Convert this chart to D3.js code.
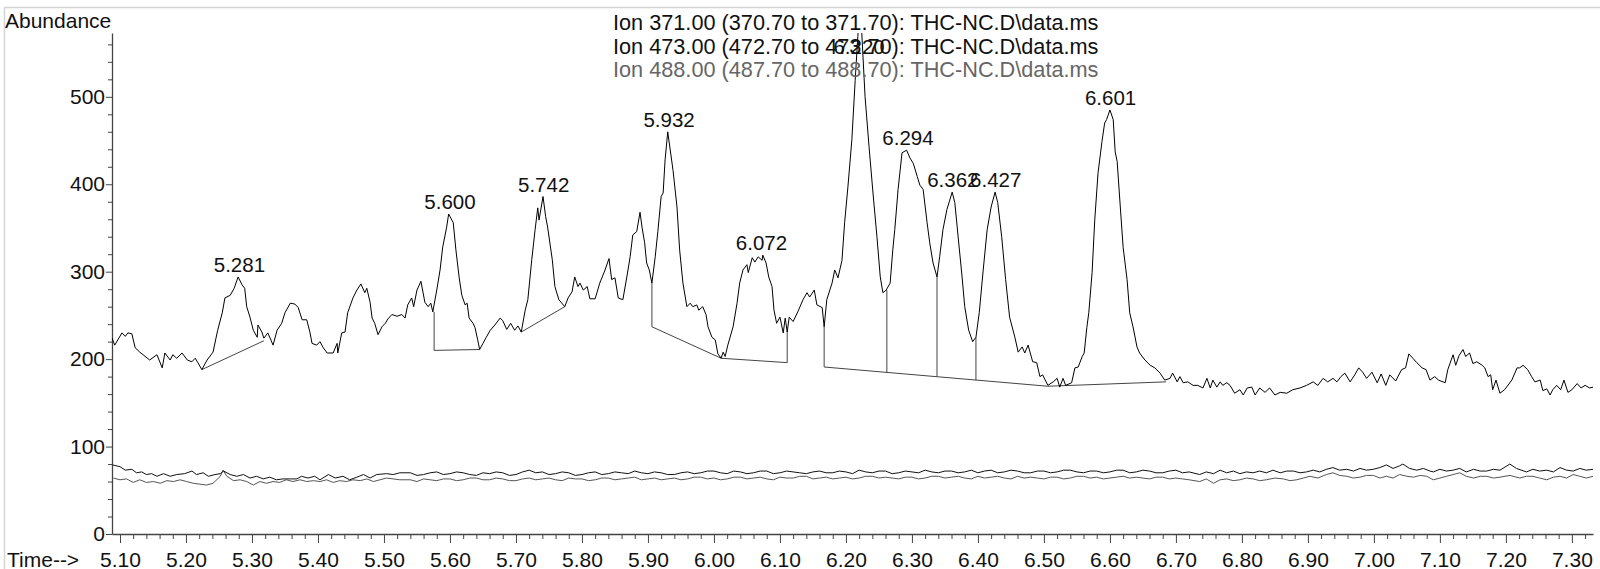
<!DOCTYPE html>
<html>
<head>
<meta charset="utf-8">
<script src="https://cdn.jsdelivr.net/npm/d3@7"></script>
<style>
  html, body { margin: 0; padding: 0; background: #fff; }
  svg { display: block; font-family: "Liberation Sans", Arial, sans-serif; }
</style>
</head>
<body>
<div id="chart"></div>
<script>
// ---------- DATA ----------
const titleLines = [
  "Ion 371.00 (370.70 to 371.70): THC-NC.D\\data.ms",
  "Ion 473.00 (472.70 to 473.70): THC-NC.D\\data.ms",
  "Ion 488.00 (487.70 to 488.70): THC-NC.D\\data.ms"
];
const xMajorTicks = [5.10,5.20,5.30,5.40,5.50,5.60,5.70,5.80,5.90,6.00,6.10,6.20,6.30,6.40,6.50,6.60,6.70,6.80,6.90,7.00,7.10,7.20,7.30];
const yMajorTicks = [0,100,200,300,400,500];

// Ion 371 trace [time, abundance]
const ion371 = [[5.088,224],[5.092,216],[5.103,230],[5.108,226],[5.112,230],[5.118,229],[5.123,213],[5.130,208],[5.135,205],[5.145,199],[5.156,205],[5.164,190],[5.168,207],[5.176,199],[5.180,205],[5.186,201],[5.194,207],[5.202,199],[5.209,197],[5.214,201],[5.218,196],[5.224,188],[5.232,199],[5.241,208],[5.248,233],[5.255,253],[5.259,270],[5.267,273],[5.273,281],[5.279,294],[5.285,285],[5.289,281],[5.292,260],[5.297,248],[5.302,233],[5.308,225],[5.309,239],[5.315,231],[5.318,224],[5.324,230],[5.332,216],[5.338,233],[5.345,241],[5.350,253],[5.358,264],[5.365,263],[5.370,259],[5.376,245],[5.383,245],[5.388,230],[5.391,218],[5.398,216],[5.403,220],[5.408,213],[5.414,207],[5.423,207],[5.429,218],[5.430,207],[5.436,230],[5.441,231],[5.445,253],[5.453,270],[5.459,279],[5.465,286],[5.471,276],[5.474,281],[5.479,265],[5.482,247],[5.486,241],[5.491,228],[5.497,237],[5.502,241],[5.506,246],[5.512,251],[5.520,249],[5.527,251],[5.532,247],[5.536,262],[5.542,270],[5.545,260],[5.550,279],[5.556,289],[5.562,265],[5.567,260],[5.571,264],[5.574,254],[5.580,279],[5.585,302],[5.589,328],[5.595,351],[5.598,366],[5.605,356],[5.609,325],[5.614,293],[5.618,273],[5.623,262],[5.626,264],[5.629,247],[5.635,241],[5.638,236],[5.642,222],[5.645,211],[5.650,218],[5.655,225],[5.661,233],[5.668,239],[5.676,247],[5.680,244],[5.686,234],[5.692,241],[5.698,233],[5.703,238],[5.708,231],[5.714,256],[5.718,268],[5.724,314],[5.729,348],[5.733,373],[5.735,359],[5.741,386],[5.745,363],[5.748,351],[5.755,314],[5.759,283],[5.765,268],[5.774,260],[5.779,270],[5.785,277],[5.789,294],[5.794,283],[5.797,287],[5.802,279],[5.808,283],[5.812,269],[5.820,269],[5.827,287],[5.835,302],[5.841,315],[5.845,291],[5.850,293],[5.855,270],[5.862,268],[5.868,294],[5.873,317],[5.877,342],[5.883,346],[5.888,368],[5.891,351],[5.895,333],[5.898,310],[5.902,302],[5.906,287],[5.911,317],[5.915,346],[5.920,386],[5.923,390],[5.926,428],[5.930,460],[5.938,416],[5.944,374],[5.948,325],[5.953,287],[5.959,260],[5.964,264],[5.968,260],[5.974,262],[5.977,256],[5.983,260],[5.988,251],[5.991,237],[5.997,225],[6.002,222],[6.006,206],[6.011,201],[6.014,208],[6.017,203],[6.021,216],[6.029,237],[6.035,264],[6.039,287],[6.044,302],[6.050,308],[6.052,299],[6.058,316],[6.062,311],[6.067,317],[6.073,313],[6.074,319],[6.079,310],[6.083,294],[6.088,283],[6.091,256],[6.095,241],[6.100,248],[6.105,230],[6.108,247],[6.111,231],[6.114,248],[6.120,243],[6.127,254],[6.135,268],[6.141,276],[6.145,271],[6.152,279],[6.156,262],[6.164,259],[6.167,237],[6.171,268],[6.179,287],[6.183,302],[6.188,293],[6.194,313],[6.198,356],[6.203,397],[6.209,451],[6.214,519],[6.218,569],[6.221,600],[6.224,573],[6.229,500],[6.235,443],[6.241,390],[6.247,340],[6.252,294],[6.256,276],[6.261,279],[6.267,287],[6.271,325],[6.274,348],[6.279,394],[6.285,436],[6.292,439],[6.297,430],[6.302,424],[6.308,409],[6.312,399],[6.317,394],[6.323,356],[6.327,333],[6.332,310],[6.338,294],[6.342,317],[6.347,348],[6.353,371],[6.361,391],[6.365,379],[6.370,340],[6.376,294],[6.380,260],[6.386,233],[6.392,220],[6.397,225],[6.402,253],[6.408,302],[6.414,348],[6.420,374],[6.426,391],[6.430,379],[6.436,340],[6.442,291],[6.448,248],[6.456,225],[6.461,208],[6.467,214],[6.471,207],[6.476,216],[6.483,197],[6.489,196],[6.494,180],[6.498,182],[6.506,170],[6.514,174],[6.520,178],[6.524,168],[6.529,178],[6.533,170],[6.542,173],[6.547,190],[6.552,191],[6.558,203],[6.561,207],[6.565,236],[6.568,253],[6.573,299],[6.577,359],[6.582,413],[6.588,449],[6.592,470],[6.595,474],[6.600,485],[6.605,474],[6.608,437],[6.611,426],[6.615,382],[6.620,328],[6.626,291],[6.630,253],[6.635,237],[6.641,214],[6.645,207],[6.653,199],[6.661,193],[6.668,190],[6.676,184],[6.683,176],[6.691,178],[6.695,184],[6.702,174],[6.706,180],[6.711,173],[6.718,174],[6.726,170],[6.733,170],[6.741,167],[6.747,178],[6.752,167],[6.756,176],[6.762,168],[6.767,174],[6.771,170],[6.777,173],[6.782,170],[6.789,161],[6.797,165],[6.802,159],[6.808,167],[6.815,168],[6.820,159],[6.827,167],[6.835,162],[6.842,167],[6.850,159],[6.858,162],[6.868,161],[6.877,165],[6.888,167],[6.898,170],[6.908,174],[6.915,170],[6.923,178],[6.930,174],[6.938,178],[6.944,174],[6.950,180],[6.956,184],[6.964,174],[6.971,182],[6.977,190],[6.983,185],[6.989,178],[6.997,185],[7.005,173],[7.011,183],[7.018,170],[7.024,182],[7.033,175],[7.042,188],[7.048,190],[7.053,206],[7.059,201],[7.065,196],[7.073,190],[7.079,188],[7.085,176],[7.092,180],[7.098,176],[7.108,173],[7.112,188],[7.120,205],[7.124,193],[7.129,204],[7.135,211],[7.139,203],[7.145,207],[7.150,195],[7.156,197],[7.164,193],[7.168,190],[7.173,180],[7.177,182],[7.180,165],[7.185,176],[7.191,161],[7.198,165],[7.209,176],[7.217,190],[7.221,190],[7.226,193],[7.233,188],[7.239,180],[7.244,174],[7.252,176],[7.256,164],[7.262,166],[7.267,159],[7.271,165],[7.277,170],[7.283,165],[7.288,176],[7.294,162],[7.300,165],[7.308,172],[7.314,167],[7.320,170],[7.327,167],[7.332,168]];

// Ion 473 trace
const ion473 = [[5.089,79],[5.100,77],[5.108,73],[5.118,74],[5.125,70],[5.133,71],[5.140,68],[5.148,69],[5.156,66],[5.166,69],[5.176,66],[5.186,68],[5.198,69],[5.209,72],[5.216,68],[5.226,70],[5.234,66],[5.244,68],[5.252,69],[5.257,72],[5.267,68],[5.277,66],[5.287,68],[5.297,64],[5.307,66],[5.317,63],[5.327,65],[5.337,62],[5.347,63],[5.358,63],[5.368,63],[5.375,66],[5.385,64],[5.395,66],[5.403,62],[5.416,68],[5.426,64],[5.438,66],[5.448,62],[5.459,65],[5.469,68],[5.479,64],[5.489,68],[5.504,69],[5.514,68],[5.524,70],
[5.54,70],[5.55,67],[5.56,68],[5.57,70],[5.58,71],[5.59,68],[5.60,69],[5.61,71],[5.62,70],[5.63,68],[5.64,67],[5.65,70],[5.66,69],[5.67,71],[5.68,70],[5.69,67],[5.70,68],[5.71,71],[5.72,73],[5.73,70],[5.74,71],[5.75,68],[5.76,69],[5.77,71],[5.78,70],[5.79,67],[5.80,68],[5.81,70],[5.82,71],[5.83,68],[5.84,69],[5.85,71],[5.86,70],[5.87,69],[5.88,72],[5.89,70],[5.90,69],[5.91,71],[5.92,70],[5.93,68],[5.94,68],[5.95,70],[5.96,71],[5.97,69],[5.98,70],[5.99,72],[6.00,72],[6.01,70],[6.02,69],[6.03,72],[6.04,71],[6.05,69],[6.06,70],[6.07,72],[6.08,72],[6.09,69],[6.10,70],[6.11,72],[6.12,71],[6.13,70],[6.14,69],[6.15,71],[6.16,72],[6.17,70],[6.18,70],[6.19,72],[6.20,71],[6.21,69],[6.22,73],[6.23,71],[6.24,70],[6.25,72],[6.26,72],[6.27,69],[6.28,70],[6.29,72],[6.30,71],[6.31,70],[6.32,73],[6.33,71],[6.34,70],[6.35,72],[6.36,72],[6.37,70],[6.38,71],[6.39,73],[6.40,70],[6.41,72],[6.42,73],[6.43,70],[6.44,71],[6.45,73],[6.46,72],[6.47,70],[6.48,70],[6.49,72],[6.50,72],[6.51,70],[6.52,71],[6.53,73],[6.54,73],[6.55,71],[6.56,70],[6.57,72],[6.58,72],[6.59,70],[6.60,71],[6.61,73],[6.62,73],[6.63,70],[6.64,71],[6.65,73],[6.66,72],[6.67,70],[6.68,70],[6.69,72],[6.70,73],[6.71,70],[6.72,71],
[6.736,68],[6.746,71],[6.757,69],[6.767,73],[6.777,70],[6.787,72],[6.797,69],[6.807,71],[6.817,70],[6.827,72],[6.837,70],[6.847,73],[6.858,70],[6.868,72],[6.878,72],[6.888,70],[6.898,71],[6.908,73],[6.918,71],[6.928,74],[6.938,76],[6.948,73],[6.959,74],[6.969,72],[6.979,75],[6.989,73],[6.999,74],[7.009,76],[7.019,79],[7.029,75],[7.039,78],[7.044,80],[7.054,75],[7.065,73],[7.075,75],[7.085,72],[7.090,71],[7.100,74],[7.110,72],[7.120,73],[7.130,75],[7.140,71],[7.151,74],[7.161,72],[7.171,72],[7.181,74],[7.191,73],[7.206,80],[7.216,75],[7.231,71],[7.241,74],[7.251,72],[7.262,73],[7.272,71],[7.282,76],[7.292,73],[7.302,72],[7.312,75],[7.322,73],[7.332,74]];

// Ion 488 trace
const ion488 = [[5.090,64],[5.100,62],[5.110,63],[5.120,59],[5.130,62],[5.140,59],[5.151,60],[5.161,58],[5.171,61],[5.181,60],[5.191,62],[5.201,60],[5.211,58],[5.221,57],[5.231,56],[5.241,58],[5.252,66],[5.256,73],[5.262,66],[5.272,61],[5.282,62],[5.292,60],[5.302,56],[5.312,60],[5.322,58],[5.332,60],[5.342,59],[5.352,62],[5.362,60],[5.373,62],[5.383,60],[5.393,61],[5.403,60],[5.413,62],[5.423,59],[5.433,61],[5.443,60],[5.453,62],[5.464,61],[5.474,63],[5.484,60],[5.494,62],[5.504,64],[5.524,62],
[5.54,62],[5.55,60],[5.56,63],[5.57,62],[5.58,61],[5.59,63],[5.60,63],[5.61,61],[5.62,62],[5.63,64],[5.64,64],[5.65,62],[5.66,62],[5.67,64],[5.68,63],[5.69,61],[5.70,61],[5.71,63],[5.72,64],[5.73,62],[5.74,63],[5.75,64],[5.76,62],[5.77,61],[5.78,64],[5.79,63],[5.80,63],[5.81,61],[5.82,62],[5.83,64],[5.84,64],[5.85,62],[5.86,63],[5.87,64],[5.88,65],[5.89,62],[5.90,63],[5.91,64],[5.92,62],[5.93,63],[5.94,64],[5.95,62],[5.96,63],[5.97,65],[5.98,65],[5.99,63],[6.00,64],[6.01,62],[6.02,63],[6.03,65],[6.04,65],[6.05,63],[6.06,64],[6.07,65],[6.08,63],[6.09,62],[6.10,65],[6.11,64],[6.12,64],[6.13,66],[6.14,66],[6.15,63],[6.16,64],[6.17,65],[6.18,63],[6.19,64],[6.20,65],[6.21,63],[6.22,64],[6.23,66],[6.24,66],[6.25,64],[6.26,65],[6.27,64],[6.28,63],[6.29,65],[6.30,65],[6.31,63],[6.32,64],[6.33,66],[6.34,66],[6.35,64],[6.36,65],[6.37,66],[6.38,64],[6.39,63],[6.40,66],[6.41,64],[6.42,65],[6.43,66],[6.44,64],[6.45,63],[6.46,66],[6.47,64],[6.48,65],[6.49,64],[6.50,63],[6.51,65],[6.52,65],[6.53,63],[6.54,64],[6.55,66],[6.56,66],[6.57,64],[6.58,65],[6.59,63],[6.60,64],[6.61,65],[6.62,66],[6.63,64],[6.64,65],[6.65,64],[6.66,63],[6.67,65],[6.68,65],[6.69,63],[6.70,64],[6.71,63],[6.72,62],
[6.736,60],[6.746,63],[6.757,58],[6.767,62],[6.777,63],[6.787,61],[6.797,62],[6.807,64],[6.817,63],[6.827,61],[6.837,62],[6.850,64],[6.863,63],[6.873,61],[6.883,62],[6.893,64],[6.903,66],[6.915,64],[6.928,68],[6.938,70],[6.948,67],[6.959,66],[6.969,64],[6.979,65],[6.989,67],[6.999,67],[7.009,64],[7.019,66],[7.029,64],[7.039,68],[7.050,66],[7.060,65],[7.070,67],[7.080,66],[7.090,62],[7.100,64],[7.110,66],[7.120,68],[7.130,70],[7.140,66],[7.151,64],[7.161,66],[7.171,66],[7.181,64],[7.191,65],[7.206,67],[7.221,64],[7.231,66],[7.241,66],[7.251,64],[7.262,62],[7.272,65],[7.282,66],[7.292,64],[7.302,68],[7.312,66],[7.322,64],[7.332,66]];

// Peak labels
const peakTimes = [5.281,5.600,5.742,5.932,6.072,6.220,6.294,6.362,6.427,6.601];
const peakApex  = [294,366,386,460,319,600,439,391,391,485];

// Integration baselines / drop lines [time, abundance]
const integrationLines = [
  [[5.224,188],[5.318,221]],
  [[5.576,254],[5.576,210],[5.645,211]],
  [[5.708,231],[5.774,260]],
  [[5.906,287],[5.906,237],[6.011,201]],
  [[6.011,201],[6.111,196],[6.111,231]],
  [[6.167,237],[6.167,191],[6.506,169],[6.685,174]],
  [[6.262,279],[6.262,185]],
  [[6.338,294],[6.338,180]],
  [[6.397,225],[6.397,176]]
];

// ---------- CHART ----------
const W = 1600, H = 569;
const svg = d3.select('#chart').append('svg').attr('width', W).attr('height', H);
svg.append('rect').attr('width', W).attr('height', H).attr('fill', '#fff');

// frame
svg.append('line').attr('x1', 4).attr('x2', W).attr('y1', 7.5).attr('y2', 7.5).attr('stroke', '#d4d4d4').attr('stroke-width', 1.5);
svg.append('line').attr('x1', 4.5).attr('x2', 4.5).attr('y1', 7).attr('y2', H).attr('stroke', '#d4d4d4').attr('stroke-width', 1.5);

const x = d3.scaleLinear().domain([5.0879, 7.332]).range([112, 1593]);
const y = d3.scaleLinear().domain([0, 573]).range([534, 33]);

const fontAxis = '21px';

// y axis
const yMinor = d3.range(20, 573, 20).filter(v => v % 100 !== 0);
svg.append('g').attr('transform', 'translate(112,0)')
  .call(d3.axisLeft(y).tickValues(yMinor).tickSize(4).tickSizeOuter(0).tickFormat(''))
  .call(g => g.select('.domain').remove())
  .call(g => g.selectAll('line').attr('stroke', '#444'));
const gy = svg.append('g').attr('transform', 'translate(112,0)')
  .call(d3.axisLeft(y).tickValues(yMajorTicks).tickSize(6).tickSizeOuter(0).tickPadding(1).tickFormat(d3.format('d')));
gy.select('.domain').attr('stroke', '#444').attr('stroke-width', 1.3);
gy.selectAll('line').attr('stroke', '#444');
gy.selectAll('text').attr('font-size', fontAxis).attr('fill', '#111')
  .attr('font-family', '"Liberation Sans", Arial, sans-serif');

// x axis
const xMinor = d3.range(5.12, 7.331, 0.02).filter(v => Math.abs(Math.round(v * 10) - v * 10) > 0.01);
svg.append('g').attr('transform', 'translate(0,534)')
  .call(d3.axisBottom(x).tickValues(xMinor).tickSize(5).tickSizeOuter(0).tickFormat(''))
  .call(g => g.select('.domain').remove())
  .call(g => g.selectAll('line').attr('stroke', '#444'));
const gx = svg.append('g').attr('transform', 'translate(0,534)')
  .call(d3.axisBottom(x).tickValues(xMajorTicks).tickSize(9).tickSizeOuter(0).tickFormat(d3.format('.2f')));
gx.select('.domain').attr('stroke', '#444').attr('stroke-width', 1.3);
gx.selectAll('line').attr('stroke', '#444');
gx.selectAll('text').attr('font-size', fontAxis).attr('fill', '#111')
  .attr('font-family', '"Liberation Sans", Arial, sans-serif')
  .attr('y', 33).attr('dy', 0);

// axis titles
svg.append('text').attr('x', 5).attr('y', 28).attr('font-size', fontAxis).attr('fill', '#111').text('Abundance');
svg.append('text').attr('x', 7).attr('y', 567).attr('font-size', fontAxis).attr('fill', '#111').text('Time-->');

// clip
svg.append('clipPath').attr('id', 'plotclip').append('rect')
  .attr('x', 112).attr('y', 33).attr('width', 1593 - 112).attr('height', 534 - 33);

const line = d3.line().x(d => x(d[0])).y(d => y(d[1]));
const plot = svg.append('g').attr('clip-path', 'url(#plotclip)');

plot.append('path').datum(ion488).attr('d', line).attr('fill', 'none').attr('stroke', '#555').attr('stroke-width', 1);
plot.append('path').datum(ion473).attr('d', line).attr('fill', 'none').attr('stroke', '#111').attr('stroke-width', 1);

integrationLines.forEach(seg => {
  plot.append('path').datum(seg).attr('d', line).attr('fill', 'none')
    .attr('stroke', '#444').attr('stroke-width', 1);
});

plot.append('path').datum(ion371).attr('d', line).attr('fill', 'none').attr('stroke', '#000').attr('stroke-width', 1);

// titles
const titleColors = ['#111', '#111', '#666'];
titleLines.forEach((t, i) => {
  svg.append('text').attr('x', 613).attr('y', 30 + i * 23.5)
    .attr('font-size', '21.7px').attr('fill', titleColors[i]).text(t);
});

// peak labels
peakTimes.forEach((t, i) => {
  const ly = Math.max(y(peakApex[i]) - 5, y.range()[1] + 21);
  svg.append('text').attr('x', x(t)).attr('y', ly)
    .attr('text-anchor', 'middle').attr('font-size', '20.5px').attr('fill', '#111')
    .text(t.toFixed(3));
});
</script>
</body>
</html>
